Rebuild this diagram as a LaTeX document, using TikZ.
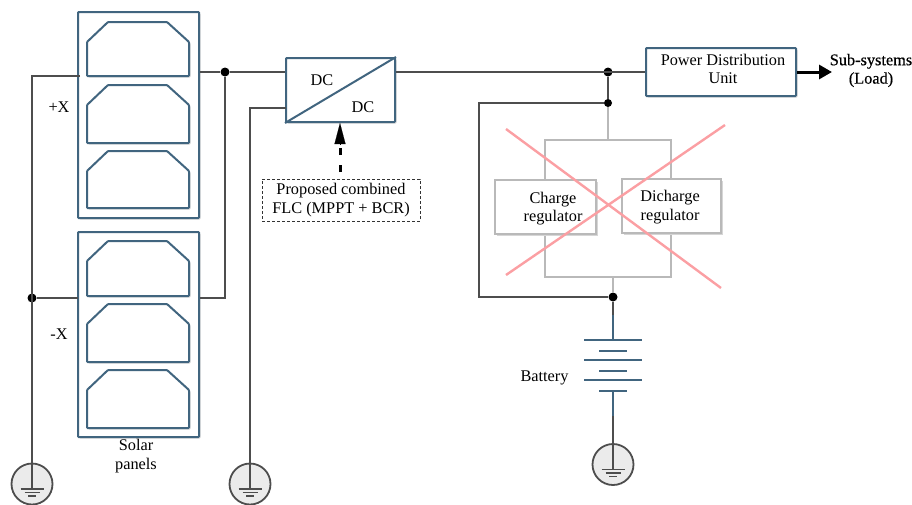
\documentclass[tikz,border=0pt]{standalone}
\usepackage{fontspec}
\setmainfont{Liberation Serif}
\usetikzlibrary{shadows,arrows.meta}
\definecolor{steelline}{HTML}{41657F}
\definecolor{wiredark}{HTML}{4D4D4D}
\definecolor{wiregrey}{HTML}{B9B9B9}
\definecolor{crossred}{HTML}{FB9FA3}
\newcommand{\regfont}{\fontsize{16.3}{18.4}\selectfont}
\tikzset{
  softshadow/.style={drop shadow={shadow xshift=1.5pt, shadow yshift=-1.5pt, fill=black!16, opacity=1}},
  framebox/.style={draw=steelline, line width=2pt, fill=white, inner sep=0pt, softshadow, rounded corners=0.8pt},
  panelshape/.style={draw=steelline, line width=2pt, fill=white, softshadow, rounded corners=0.8pt},
  regbox/.style={draw=wiregrey, line width=2pt, fill=white, inner sep=0pt, softshadow, align=center, font=\regfont},
  txt/.style={inner sep=0pt, align=center, font=\regfont},
  wire/.style={draw=wiredark, line width=2pt},
  greywire/.style={draw=wiregrey, line width=2pt},
  steelwire/.style={draw=steelline, line width=2pt},
  crossline/.style={draw=crossred, line width=2.4pt},
  dotnode/.style={circle, fill=black, inner sep=0pt, minimum size=9pt},
  gndring/.style={circle, draw=wiredark, line width=1.8pt, fill=black!8, inner sep=0pt, minimum size=41pt},
  gndsym/.pic={
    \node[gndring] (-ring) at (0,0) {};
    \coordinate (-top) at (0,5);
    \foreach \yy/\ww in {5/11.5, 8.5/7.5, 12/4}
      \draw[draw=wiredark, line width=1.8pt] (-\ww,\yy) -- (\ww,\yy);
  }
}
\begin{document}
\begin{tikzpicture}[x=1pt, y=-1pt]
  \useasboundingbox (0,0) rectangle (912,504);

  % solar panels
  \node[framebox, minimum width=121pt, minimum height=206pt] (plusframe) at (138.5,115) {};
  \node[framebox, minimum width=121pt, minimum height=205pt] (minusframe) at (138.5,334.5) {};
  \foreach \yt/\yb in {22/76, 85/143, 151/208, 241/296, 304/362, 370/428}
    \draw[panelshape] (87,\yb) -- (87,{\yt+20}) -- (108,\yt) -- (167,\yt) -- (189,{\yt+20}) -- (189,\yb) -- cycle;
  \node[txt] (plustext) at (59,107) {+X};
  \node[txt] (minustext) at (59,334) {-X};
  \node[txt] (solartext) at (136,456) {Solar\\panels};

  % converter
  \node[framebox, minimum width=109pt, minimum height=64pt] (conv) at (340.5,90) {};
  \draw[steelwire] (conv.south west) -- (conv.north east);
  \node[txt] (dcup) at (322,80) {DC};
  \node[txt] (dcdown) at (363,107) {DC};
  \node[draw=black!80, densely dashed, line width=1pt, minimum width=158pt, minimum height=42pt,
        inner sep=0pt, txt] (flc) at (341,200) {Proposed combined\\FLC (MPPT + BCR)};
  \coordinate (flcstart) at (340,172);
  \coordinate (flcdash) at (340,148);
  \coordinate (flctip) at (340,144);
  \coordinate (flchead) at (340,123);
  \draw[line width=3pt, dash pattern=on 7pt off 10pt] (flcstart) -- (flcdash);
  \draw[line width=0.1pt, -{Triangle[length=21pt, width=11pt]}] (flctip) -- (flchead);

  % unit and load
  \node[framebox, minimum width=150pt, minimum height=48pt] (pdu) at (721,72) {};
  \node[txt] (pdutext) at (723,69) {Power Distribution\\Unit};
  \node[txt, font=\regfont\addfontfeature{FakeBold=0.5}] (load) at (871,70.5) {Sub-systems\\(Load)};
  \coordinate (loadend) at (832,72);
  \draw[line width=3pt, black, -{Triangle[length=13pt, width=14pt]}] (pdu.east) -- (loadend);

  % regulators
  \node[draw=wiregrey, line width=2pt, minimum width=126pt, minimum height=137pt, inner sep=0pt] (regframe) at (608,208.5) {};
  \node[regbox, minimum width=101pt, minimum height=54pt] (charge) at (545.5,207) {};
  \node[txt] (chargetext) at (553,208.5) {Charge\\regulator};
  \node[regbox, minimum width=99pt, minimum height=54pt] (discharge) at (671.5,206) {};
  \node[txt] (dischargetext) at (670,207) {Dicharge\\regulator};

  % battery
  \foreach \nm/\yy in {cellA/340, cellB/360, cellC/380, cellD/351, cellE/371, cellF/391}
    \coordinate (\nm) at (613,\yy);
  \foreach \nm in {cellA, cellB, cellC}
    \draw[steelwire, line width=1.8pt] ([xshift=-29pt]\nm) -- ([xshift=29pt]\nm);
  \foreach \nm in {cellD, cellE, cellF}
    \draw[steelwire, line width=1.8pt] ([xshift=-14pt]\nm) -- ([xshift=14pt]\nm);
  \node[txt] (battext) at (544.5,377.5) {Battery};

  % grounds
  \pic (gndA) at (32,484) {gndsym};
  \pic (gndB) at (250,484) {gndsym};
  \pic (gndC) at (613,464.5) {gndsym};

  % junctions
  \node[dotnode] (jPanel) at (225,72) {};
  \node[dotnode] (jGround) at (32,298) {};
  \node[dotnode] (jBus) at (608,72) {};
  \node[dotnode, minimum size=8pt] (jUpper) at (608,103) {};
  \node[dotnode] (jLower) at (613,297) {};
  \coordinate (loopCorner) at (479,103);

  % wires
  \coordinate (plusNeg) at (80,76);
  \coordinate (minusNeg) at (78,298);
  \coordinate (plusPos) at (200,72);
  \coordinate (minusPos) at (200,298);
  \coordinate (convLow) at (286,108);
  \coordinate (batTop) at (613,315);
  \coordinate (batLow) at (613,416);
  \draw[wire] (plusNeg) -| (gndA-top);
  \draw[wire] (minusNeg) -- (jGround);
  \draw[wire] (plusPos) -- (jPanel) -- (jPanel -| conv.west);
  \draw[wire] (jPanel) |- (minusPos);
  \draw[wire] (convLow) -| (gndB-top);
  \draw[wire] (conv.east |- jBus) -- (pdu.west |- jBus);
  \draw[wire] (jBus) -- (jUpper);
  \draw[wire] (jUpper) -- (loopCorner) |- (jLower);
  \draw[greywire] (jUpper) -- (jUpper |- regframe.north);
  \draw[greywire] (jLower |- regframe.south) -- (jLower);
  \draw[wire] (jLower) -- (batTop);
  \draw[steelwire] (batTop) -- (cellA);
  \draw[steelwire] (cellF) -- (batLow);
  \draw[wire] (batLow) -- (gndC-top);

  % cross
  \coordinate (crossA) at (506,129);
  \coordinate (crossB) at (721,288);
  \coordinate (crossC) at (506,275);
  \coordinate (crossD) at (725,125);
  \draw[crossline] (crossA) -- (crossB);
  \draw[crossline] (crossC) -- (crossD);
\end{tikzpicture}
\end{document}
